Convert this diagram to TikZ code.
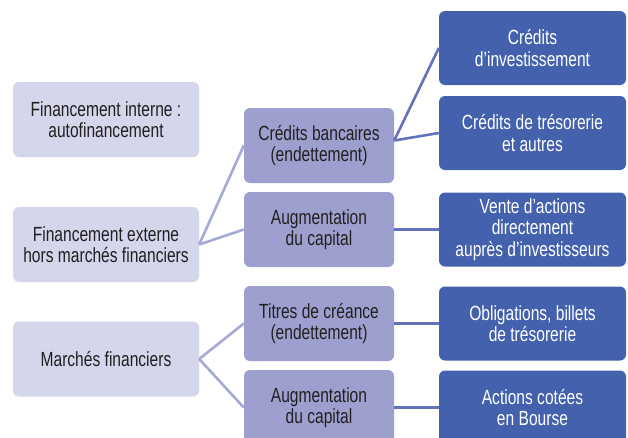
\documentclass[tikz,border=0pt]{standalone}
\usepackage{fontspec}
\setmainfont{Liberation Sans}[FakeStretch=0.76]
\usepackage{tikz}
\usetikzlibrary{positioning}
\usepackage{xcolor}
\definecolor{palelilac}{RGB}{212,214,235}
\definecolor{midlilac}{RGB}{157,160,207}
\definecolor{deepblue}{RGB}{68,97,173}
\definecolor{inkgray}{RGB}{35,31,32}
\definecolor{linkpale}{RGB}{165,169,216}
\definecolor{linkblue}{RGB}{100,114,188}

\begin{document}
\begin{tikzpicture}[x=1pt, y=-1pt,
  box/.style={rounded corners=6pt, align=center, inner sep=0pt,
    font=\fontsize{20.5}{21.5}\selectfont},
  lvlone/.style={box, fill=palelilac, text=inkgray, minimum width=186pt, minimum height=75pt},
  lvltwo/.style={box, fill=midlilac, text=inkgray, minimum width=150pt, minimum height=75pt},
  lvlthree/.style={box, fill=deepblue, text=white, minimum width=187pt, minimum height=74pt},
  paleline/.style={linkpale, line width=2.6pt},
  blueline/.style={linkblue, line width=2.6pt}]
  \clip (0,0) rectangle (628,437);
  \fill[white] (0,0) rectangle (628,437);

  % first column
  \node[lvlone] (interne) at (106,119.5) {Financement interne :\\autofinancement};
  \node[lvlone] (externe) at (106,244.5) {Financement externe\\hors marchés financiers};
  \node[lvlone] (marches) at (106,359) {Marchés financiers};

  % second column
  \node[lvltwo] (bancaires) at (319,145.5) {Crédits bancaires\\(endettement)};
  \node[lvltwo] (capitalA) at (319,229.5) {Augmentation\\du capital};
  \node[lvltwo] (creance) at (319,323.5) {Titres de créance\\(endettement)};
  \node[lvltwo] (capitalB) at (319,407.5) {Augmentation\\du capital};

  % third column
  \node[lvlthree] (invest) at (532.5,48) {Crédits\\d’investissement};
  \node[lvlthree] (tresor) at (532.5,133) {Crédits de trésorerie\\et autres};
  \node[lvlthree] (vente) at (532.5,229.5) {Vente d’actions\\directement\\auprès d'investisseurs};
  \node[lvlthree] (oblig) at (532.5,323.5) {Obligations, billets\\de trésorerie};
  \node[lvlthree] (cotees) at (532.5,407.5) {Actions cotées\\en Bourse};

  % links
  \draw[paleline] (externe.east) -- (bancaires.west);
  \draw[paleline] (externe.east) -- (capitalA.west);
  \draw[paleline] (marches.east) -- (creance.west);
  \draw[paleline] (marches.east) -- (capitalB.west);
  \draw[blueline] ([yshift=5pt]bancaires.east) -- (invest.west);
  \draw[blueline] ([yshift=5pt]bancaires.east) -- (tresor.west);
  \draw[blueline] (capitalA.east) -- (vente.west);
  \draw[blueline] (creance.east) -- (oblig.west);
  \draw[blueline] (capitalB.east) -- (cotees.west);
\end{tikzpicture}
\end{document}
